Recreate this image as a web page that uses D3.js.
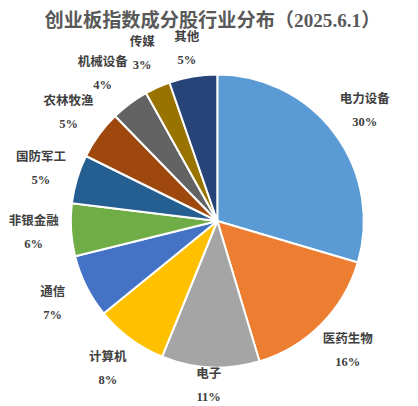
<!DOCTYPE html>
<html><head><meta charset="utf-8">
<script src="https://cdn.jsdelivr.net/npm/d3@7/dist/d3.min.js"></script>
<style>body{margin:0;background:#fff}svg{display:block}</style>
</head><body>
<svg id="c" width="418" height="406"></svg>
<script>
const categories = ["电力设备","医药生物","电子","计算机","通信","非银金融","国防军工","农林牧渔","机械设备","传媒","其他"];
const values = [29.6,15.8,10.8,8.0,7.0,5.8,5.4,5.4,4.2,2.8,5.3];
const colors = ["#5B9BD5","#ED7D31","#A5A5A5","#FFC000","#4472C4","#70AD47","#255E91","#9E480E","#636363","#997300","#264478"];
const title = "创业板指数成分股行业分布（2025.6.1）";

const W = 418, H = 406, cx = 217.3, cy = 221, R = 146.5, LR = 184;
const svg = d3.select("#c");
svg.append("rect").attr("width",W).attr("height",H).attr("fill","#fff");
svg.append("text").attr("x",212.5).attr("y",20).attr("text-anchor","middle").attr("dominant-baseline","central")
  .attr("font-family","'Liberation Serif','Noto Sans CJK SC'").attr("font-weight","bold").attr("font-size",19.2)
  .attr("fill","#595959").text(title);

const data = categories.map((c,i)=>({name:c,value:values[i],color:colors[i]}));
const pie = d3.pie().value(d=>d.value).sort(null);
const arcs = pie(data);
const arc = d3.arc().innerRadius(0).outerRadius(R);
const labelArc = d3.arc().innerRadius(LR).outerRadius(LR);
const totalV = d3.sum(values);
const g = svg.append("g").attr("transform",`translate(${cx},${cy})`);
g.selectAll("path").data(arcs).join("path").attr("d",arc).attr("fill",d=>d.data.color)
  .attr("stroke","#fff").attr("stroke-width",2).attr("stroke-linejoin","round");

// label placement: centroid on outer ring, kept inside the chart area, then de-overlapped (upper left)
const LH = 36, CW = 12.5;
const pos = arcs.map(d=>{
  let [x,y]=labelArc.centroid(d);
  y = Math.max(Math.min(y, H-21-cy), 48-cy);
  return {x,y,w:d.data.name.length*CW};
});
for(let i=pos.length-2;i>=0;i--){
  const a=pos[i], b=pos[i+1];
  if(a.x<0 && b.x<0 && a.y<0 && b.y<0 && Math.abs(a.y-b.y)<LH && a.x+a.w/2 > b.x-b.w/2-2){
    a.x = b.x-b.w/2-2-a.w/2;
  }
}
const ff = "'Liberation Serif','Noto Sans CJK SC'";
const lg = g.selectAll("g.l").data(arcs).join("g").attr("class","l")
  .attr("transform",(d,i)=>`translate(${pos[i].x},${pos[i].y})`);
lg.append("text").attr("y",-11.5).attr("text-anchor","middle").attr("dominant-baseline","central")
  .attr("font-family",ff).attr("font-weight","bold").attr("font-size",12.5).attr("fill","#404040").text(d=>d.data.name);
lg.append("text").attr("y",11.5).attr("text-anchor","middle").attr("dominant-baseline","central")
  .attr("font-family",ff).attr("font-weight","bold").attr("font-size",12.5).attr("fill","#404040")
  .text(d=>Math.round(d.data.value/totalV*100)+"%");
</script>
</body></html>
